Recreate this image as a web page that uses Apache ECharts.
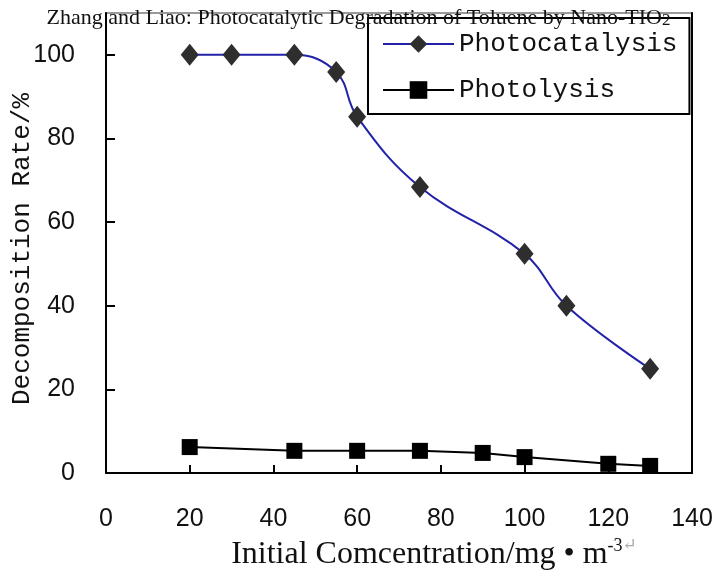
<!DOCTYPE html>
<html>
<head>
<meta charset="utf-8">
<title>Photocatalytic Degradation of Toluene</title>
<script src="https://cdn.jsdelivr.net/npm/echarts@6/dist/echarts.min.js"></script>
<style>
  html, body { margin: 0; padding: 0; background: #fff; }
  #myChart { width: 717px; height: 573px; }
</style>
</head>
<body>
<div id="myChart"></div>
<script>
// datos
const concCat = [20, 30, 45, 55, 60, 75, 100, 110, 130];
const rateCat = [100, 100, 100, 95.9, 85.2, 68.4, 52.4, 40, 24.9];
const concLys = [20, 45, 60, 75, 90, 100, 120, 130];
const rateLys = [6.2, 5.3, 5.3, 5.3, 4.8, 3.8, 2.2, 1.7];
const yTicks = [0, 20, 40, 60, 80, 100];
const seriesNames = ['Photocatalysis', 'Photolysis'];

const monoFont = '"Liberation Mono", "DejaVu Sans Mono", monospace';
const serifFont = '"Liberation Serif", "DejaVu Serif", serif';
const sansFont = '"Liberation Sans", Arial, sans-serif';

window.addEventListener('load', () => {
  const myChart = echarts.init(document.getElementById('myChart'));

  const pares = (xs, ys) => xs.map((x, i) => [x, ys[i]]);

  const option = {
    animation: false,
    backgroundColor: '#fff',
    title: {
      text: '{a|Zhang and Liao: Photocatalytic Degradation of Toluene by Nano-TIO}{b|2}',
      left: 'center',
      top: 5,
      padding: 0,
      textStyle: {
        fontWeight: 'normal',
        rich: {
          a: { fontFamily: serifFont, fontSize: 22, fontWeight: 'normal', color: '#111', lineHeight: 26 },
          b: { fontFamily: serifFont, fontSize: 17, fontWeight: 'normal', color: '#111', lineHeight: 26, padding: [6, 0, 0, 0] }
        }
      }
    },
    legend: {
      data: seriesNames,
      orient: 'vertical',
      left: 368,
      top: 18,
      padding: [13, 12, 11, 14],
      itemWidth: 71,
      itemHeight: 22,
      itemGap: 20,
      backgroundColor: '#fff',
      borderColor: '#000',
      borderWidth: 2,
      textStyle: { fontFamily: monoFont, fontSize: 26, color: '#111', lineHeight: 22 }
    },
    grid: {
      left: 106,
      right: 25,
      top: 13,
      bottom: 100,
      show: true,
      borderColor: '#9a9a9a',
      borderWidth: 2,
      containLabel: false,
      outerBoundsMode: 'none'
    },
    xAxis: {
      type: 'value',
      min: 0,
      max: 140,
      interval: 20,
      name: '{a|Initial Comcentration/mg • m}{s|-3}{r|↵}',
      nameLocation: 'middle',
      nameGap: 64,
      nameMoveOverlap: false,
      nameTextStyle: {
        padding: [0, 0, 0, 70],
        rich: {
          a: { fontFamily: serifFont, fontSize: 32, color: '#111', lineHeight: 36 },
          s: { fontFamily: serifFont, fontSize: 18, color: '#111', lineHeight: 18, verticalAlign: 'top' },
          r: { fontFamily: serifFont, fontSize: 17, color: '#aaa', lineHeight: 18, verticalAlign: 'top' }
        }
      },
      axisLine: { show: true, lineStyle: { color: '#000', width: 2 } },
      axisTick: { show: true, inside: true, length: 8, lineStyle: { color: '#000', width: 2 } },
      axisLabel: { margin: 34, fontFamily: sansFont, fontSize: 25, color: '#111' },
      splitLine: { show: false }
    },
    yAxis: [
      {
        type: 'value',
        min: 0,
        max: 110,
        name: 'Decomposition Rate/%',
        nameLocation: 'middle',
        nameGap: 71,
        nameMoveOverlap: false,
        nameTextStyle: { fontFamily: monoFont, fontSize: 26, color: '#111', padding: [0, 12, 0, 0] },
        axisLine: { show: true, lineStyle: { color: '#000', width: 2 } },
        axisTick: { show: true, inside: true, length: 9, customValues: yTicks, lineStyle: { color: '#000', width: 2 } },
        axisLabel: { margin: 31, fontFamily: sansFont, fontSize: 25, color: '#111', customValues: yTicks },
        splitLine: { show: false }
      },
      {
        // borde derecho del cuadro
        type: 'value',
        position: 'right',
        min: 0,
        max: 110,
        axisLine: { show: true, lineStyle: { color: '#000', width: 2 } },
        axisTick: { show: false },
        axisLabel: { show: false },
        splitLine: { show: false }
      }
    ],
    series: [
      {
        name: seriesNames[0],
        type: 'line',
        data: pares(concCat, rateCat),
        smooth: 0.4,
        symbol: 'diamond',
        symbolSize: [18, 22],
        itemStyle: { color: '#2e2e2e' },
        lineStyle: { color: '#2222a8', width: 2 },
        z: 3
      },
      {
        name: seriesNames[1],
        type: 'line',
        data: pares(concLys, rateLys),
        symbol: 'rect',
        symbolSize: 16,
        itemStyle: { color: '#000' },
        lineStyle: { color: '#000', width: 2 },
        z: 3
      }
    ]
  };
  myChart.setOption(option);
  window.addEventListener('resize', function() { myChart.resize(); });
});
</script>
</body>
</html>
